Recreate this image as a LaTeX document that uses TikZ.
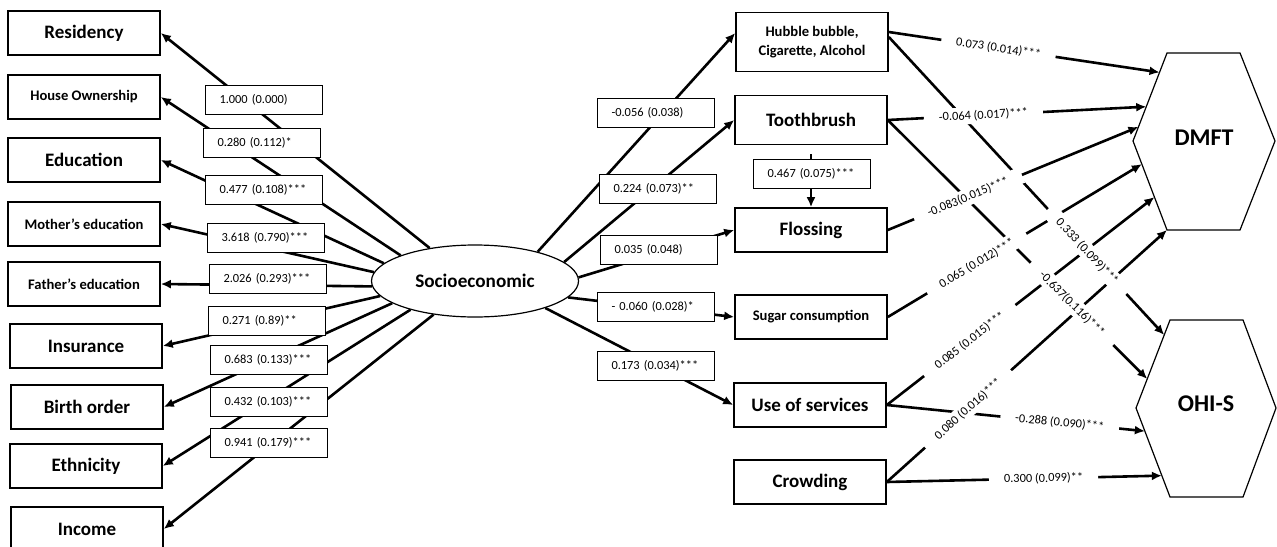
\documentclass[tikz,border=0pt]{standalone}
\usepackage{fontspec}
\setmainfont{Carlito}
\usetikzlibrary{arrows.meta,shapes.geometric,calc}

\tikzset{
  varbox/.style={draw, line width=0.8pt, fill=white, minimum width=76pt, minimum height=22pt, inner sep=1pt, align=center, font=\bfseries\fontsize{9.5}{11}\selectfont},
  smallvar/.style={varbox, font=\bfseries\fontsize{7.3}{9.5}\selectfont},
  coef/.style={draw, line width=0.7pt, fill=white, minimum height=14.5pt, inner xsep=7pt, inner ysep=1pt, text width=44.5pt, align=left, font=\fontsize{6.2}{7}\selectfont},
  link/.style={line width=1.3pt, -{Latex[length=5pt,width=4.5pt]}},
  wt/.style={sloped, fill=white, inner xsep=7.5pt, inner ysep=1.5pt, font=\fontsize{6.2}{7}\selectfont},
  hexline/.style={line width=0.6pt}
}

\begin{document}
\begin{tikzpicture}[x=0.5pt,y=-0.5pt]
\useasboundingbox (0,0) rectangle (1277,546);

\node[ellipse, draw, line width=0.6pt, minimum width=103.5pt, minimum height=36pt, inner sep=0pt, font=\bfseries\fontsize{9.6}{11}\selectfont] (socio) at (475,281) {Socioeconomic};

\node[varbox] (res) at (84,33) {Residency};
\node[smallvar] (own) at (84,97) {House Ownership};
\node[varbox] (edu) at (84,160) {Education};
\node[smallvar] (moth) at (84,224) {Mother's education};
\node[smallvar] (fath) at (84,284) {Father's education};
\node[varbox] (ins) at (86,346) {Insurance};
\node[varbox] (birth) at (87,407) {Birth order};
\node[varbox] (eth) at (86,466) {Ethnicity};
\node[varbox] (inc) at (87,529) {Income};

\node[smallvar, minimum height=29.5pt] (hub) at (812,42) {Hubble bubble,\\Cigarette, Alcohol};
\node[varbox, minimum height=24.5pt] (tooth) at (811,120) {Toothbrush};
\node[varbox] (floss) at (811,230) {Flossing};
\node[smallvar] (sugar) at (811,317) {Sugar consumption};
\node[varbox] (use) at (810,405) {Use of services};
\node[varbox] (crowd) at (810,482) {Crowding};

\coordinate (dTL) at (1167,53);  \coordinate (dTR) at (1240,53);  \coordinate (dR) at (1275,141);
\coordinate (dBR) at (1240,230); \coordinate (dBL) at (1167,230); \coordinate (dL) at (1133,141);
\draw[hexline] (dTL) -- (dTR) -- (dR) -- (dBR) -- (dBL) -- (dL) -- cycle;
\node[font=\bfseries\fontsize{12}{14}\selectfont] (dmft) at (1204,138) {DMFT};

\coordinate (oTL) at (1170,320); \coordinate (oTR) at (1243,320); \coordinate (oR) at (1276,408);
\coordinate (oBR) at (1243,497); \coordinate (oBL) at (1170,497); \coordinate (oL) at (1136,408);
\draw[hexline] (oTL) -- (oTR) -- (oR) -- (oBR) -- (oBL) -- (oL) -- cycle;
\node[font=\bfseries\fontsize{12}{14}\selectfont] (ohis) at (1206,404) {OHI-S};

\foreach \b/\a in {res/144, own/161, edu/169, moth/175, fath/183, ins/189, birth/195, eth/204, inc/219}
  \draw[link] (socio.\a) -- (\b.east);

\coordinate (hubW) at ([yshift=4.5pt]hub.west);
\draw[link] (socio.25) -- (hubW);
\draw[link] (socio.12) -- (tooth.west);
\draw[link] (socio.2) -- (floss.west);
\draw[link] (socio.350) -- (sugar.west);
\draw[link] (socio.339) -- (use.west);
\draw[link, shorten <=4.5pt] (tooth.south) -- (floss.north);

\coordinate (hubA) at ([yshift=5pt]hub.east);
\coordinate (hubB) at ([yshift=2.5pt]hub.east);
\coordinate (d1) at ($(dTL)!0.22!(dL)$);
\coordinate (d2) at ($(dTL)!0.61!(dL)$);
\coordinate (d3) at ($(dTL)!0.84!(dL)$);
\coordinate (d4) at ($(dL)!0.26!(dBL)$);
\coordinate (d5) at ($(dL)!0.63!(dBL)$);
\coordinate (d6) at (dBL);
\coordinate (o1) at ($(oTL)!0.17!(oL)$);
\coordinate (o2) at ($(oTL)!0.67!(oL)$);
\coordinate (o3) at ($(oL)!0.26!(oBL)$);
\coordinate (o4) at ($(oL)!0.76!(oBL)$);

\foreach \s/\t in {hubA/d1, tooth.east/d2, floss.east/d3, sugar.east/d4, use.east/d5, crowd.east/d6, hubB/o1, tooth.east/o2, use.east/o3, crowd.east/o4}
  \draw[link] (\s) -- (\t);

\foreach \s/\t/\p/\w in {hubA/d1/0.405/0.073 (0.014)***, tooth.east/d2/0.37/-0.064 (0.017)***, floss.east/d3/0.32/-0.083(0.015)***, sugar.east/d4/0.35/0.065 (0.012)***, use.east/d5/0.31/0.085 (0.015)***, crowd.east/d6/0.29/0.080 (0.016)***, hubB/o1/0.72/0.333 (0.099)***, tooth.east/o2/0.71/-0.637(0.116)***, use.east/o3/0.67/-0.288 (0.090)***, crowd.east/o4/0.57/0.300 (0.099)**}
  \path (\s) -- (\t) node[wt, pos=\p] {\w};

\node[coef] (l1) at (264,100) {1.000 (0.000)};
\node[coef] (l2) at (262,143) {0.280 (0.112)*};
\node[coef] (l3) at (264,190) {0.477 (0.108)***};
\node[coef] (l4) at (266,238) {3.618 (0.790)***};
\node[coef] (l5) at (268,279) {2.026 (0.293)***};
\node[coef] (l6) at (267,321) {0.271 (0.89)**};
\node[coef] (l7) at (269,360) {0.683 (0.133)***};
\node[coef] (l8) at (269,402) {0.432 (0.103)***};
\node[coef] (l9) at (269,443) {0.941 (0.179)***};

\node[coef] (m1) at (656,113) {-0.056 (0.038)};
\node[coef] (m2) at (658,189) {0.224 (0.073)**};
\node[coef] (m3) at (659,250) {0.035 (0.048)};
\node[coef] (m4) at (656,307) {- 0.060 (0.028)*};
\node[coef] (m5) at (656,366) {0.173 (0.034)***};
\node[coef] (m6) at (812,174) {0.467 (0.075)***};

\end{tikzpicture}
\end{document}
